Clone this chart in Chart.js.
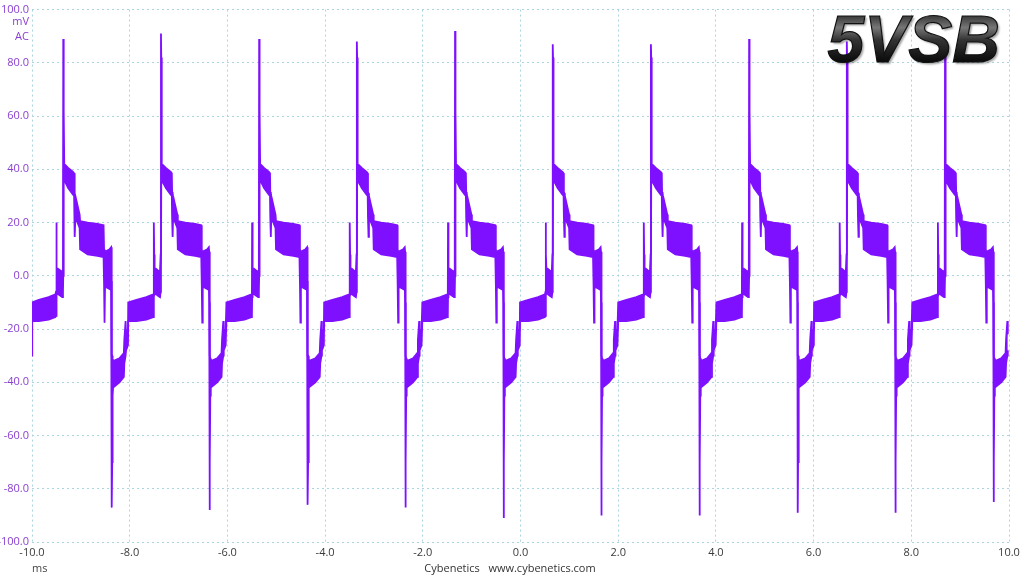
<!DOCTYPE html>
<html>
<head>
<meta charset="utf-8">
<script src="https://cdn.jsdelivr.net/npm/chart.js@4.4.1/dist/chart.umd.min.js"></script>
<style>
  html, body { margin: 0; padding: 0; background: #fff; }
</style>
</head>
<body>
<canvas id="ripple" width="1024" height="576"></canvas>
<script>
// axis ticks: time in ms, ripple in mV
const xTicks = [-10, -8, -6, -4, -2, 0, 2, 4, 6, 8, 10];
const yTicks = [-100, -80, -60, -40, -20, 0, 20, 40, 60, 80, 100];

// moment of the positive spike in every switching cycle (ms)
const cycleStarts = [-9.36, -7.36, -5.35, -3.35, -1.34, 0.66, 2.67, 4.68, 6.68, 8.69];
// tip of the positive spike per cycle (mV)
const spikePeaks = [89, 91, 89, 88, 92, 87, 87, 89, 88, 86];
// bottom of the negative spike per cycle (mV)
const spikeTroughs = [-87, -88, -86, -87, -91, -90, -90, -89, -89, -85];

// one cycle of the noisy band: offset from the positive spike (ms),
// upper edge and lower edge (mV). null = take the per-cycle spike value above
const shapeOffsets = [-0.67, -0.50, -0.30, -0.16, -0.148, -0.144, -0.138, -0.13, -0.06, -0.02,
  -0.006, 0, 0.006, 0.012, 0.02, 0.10, 0.20, 0.222, 0.228, 0.239, 0.248, 0.335,
  0.345, 0.50, 0.70, 0.825, 0.835, 0.845, 0.855, 0.95, 0.98, 0.988,
  0.995, 1.002, 1.01, 1.02, 1.15, 1.24, 1.25, 1.276, 1.285, 1.325];
const shapeHigh = [-10, -9, -8, -7, -6, 20, 8, 3, 2, 1.5,
  8, null, 82, 62, 42, 40.5, 39, 38.5, 31.5, 31, 30, 23,
  20.5, 20, 19.5, 19, 10, 9, 9, 10, 10.7, 9,
  -30, -30, -31, -32, -31, -29, -24, -17, -22, -20];
const shapeLow = [-17, -17, -16.5, -15.5, -15, -8, -7, -6.5, -7.5, -8,
  -6, 0, 35, 40, 36, 33, 30.5, 30, 22, 14.6, 22, 18,
  10, 8, 7.5, 7, -3, -17.6, -4, -5, -2, -10,
  null, -70, -45, -42, -40, -38, -33, -30, -28, -26];

// the capture starts with a short dip at the left edge
const leadTimes = [-10, -9.995];
const leadHigh = [-11, -10];
const leadLow = [-30, -17];

const traceColor = '#7f10ff';
const gridColor = '#abd5df';

const upper = [];
const lower = [];
leadTimes.forEach((t, i) => {
  upper.push({ x: t, y: leadHigh[i] });
  lower.push({ x: t, y: leadLow[i] });
});
cycleStarts.forEach((t0, c) => {
  shapeOffsets.forEach((off, i) => {
    const t = +(t0 + off).toFixed(4);
    if (t <= leadTimes[leadTimes.length - 1] || t > 10) return;
    upper.push({ x: t, y: shapeHigh[i] ?? spikePeaks[c] });
    lower.push({ x: t, y: shapeLow[i] ?? spikeTroughs[c] });
  });
});

// captions around the plot and the rail name
const labelsPlugin = {
  id: 'labels',
  afterDraw(chart) {
    const ctx = chart.ctx;
    const area = chart.chartArea;
    ctx.save();
    ctx.font = '11px "Open Sans", sans-serif';
    ctx.textBaseline = 'middle';
    ctx.textAlign = 'right';
    ctx.fillStyle = '#8a3fd1';
    ctx.fillText('mV', area.left - 3, 22);
    ctx.fillText('AC', area.left - 3, 37);
    ctx.textAlign = 'left';
    ctx.fillStyle = '#444';
    ctx.fillText('ms', 32, 569);
    ctx.textAlign = 'center';
    ctx.fillStyle = '#333';
    ctx.fillText('Cybenetics   www.cybenetics.com', 510, 569);

    // big "5VSB" badge top right
    ctx.font = 'italic bold 66px "Liberation Sans", Arial, sans-serif';
    ctx.textAlign = 'right';
    ctx.textBaseline = 'alphabetic';
    const tx = 1000;
    const ty = 62;
    const g = ctx.createLinearGradient(0, 13, 0, 62);
    g.addColorStop(0, '#2a2a2a');
    g.addColorStop(0.3, '#777');
    g.addColorStop(0.55, '#333');
    g.addColorStop(1, '#0a0a0a');
    ctx.shadowColor = 'rgba(0,0,0,0.35)';
    ctx.shadowOffsetX = 2;
    ctx.shadowOffsetY = 2;
    ctx.shadowBlur = 2;
    ctx.fillStyle = g;
    ctx.fillText('5VSB', tx, ty);
    ctx.shadowColor = 'transparent';
    ctx.lineWidth = 1.2;
    ctx.strokeStyle = '#111';
    ctx.strokeText('5VSB', tx, ty);
    ctx.restore();
  }
};

new Chart(document.getElementById('ripple'), {
  type: 'line',
  data: {
    datasets: [
      {
        label: 'low',
        data: lower,
        borderColor: traceColor,
        borderWidth: 1.8,
        pointRadius: 0,
        fill: false
      },
      {
        label: 'high',
        data: upper,
        borderColor: traceColor,
        backgroundColor: traceColor,
        borderWidth: 1.8,
        pointRadius: 0,
        fill: '-1'
      }
    ]
  },
  options: {
    responsive: false,
    animation: false,
    parsing: false,
    layout: { padding: { top: 9, right: 15, left: 0, bottom: 0 } },
    plugins: { legend: { display: false }, tooltip: { enabled: false } },
    scales: {
      x: {
        type: 'linear',
        min: -10,
        max: 10,
        afterBuildTicks: (s) => { s.ticks = xTicks.map(v => ({ value: v })); },
        afterFit: (s) => { s.height = 34; },
        ticks: {
          callback: (v) => v.toFixed(1),
          color: '#3a3a3a',
          font: { family: '"Open Sans", sans-serif', size: 11 },
          padding: 4,
          maxRotation: 0,
          autoSkip: false
        },
        grid: { color: gridColor, drawTicks: false },
        border: { display: false, dash: [2, 3] }
      },
      y: {
        type: 'linear',
        min: -100,
        max: 100,
        afterBuildTicks: (s) => { s.ticks = yTicks.map(v => ({ value: v })); },
        afterFit: (s) => { s.width = 32; },
        ticks: {
          callback: (v) => v.toFixed(1),
          color: '#8a3fd1',
          font: { family: '"Open Sans", sans-serif', size: 11 },
          padding: 3,
          autoSkip: false
        },
        grid: { color: gridColor, drawTicks: false },
        border: { display: false, dash: [2, 3] }
      }
    }
  },
  plugins: [labelsPlugin]
});
</script>
</body>
</html>
